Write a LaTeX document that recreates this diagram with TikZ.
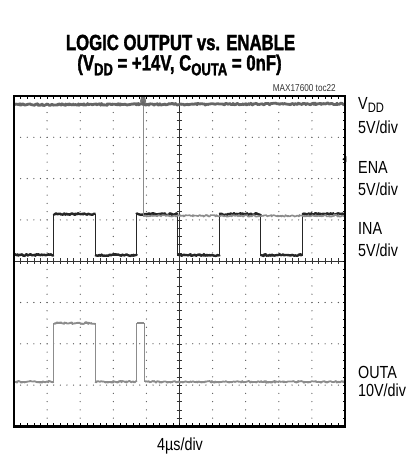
\documentclass[tikz,border=0pt]{standalone}
\usepackage{fontspec}
\setmainfont{Liberation Sans}[FakeStretch=0.82]
\newfontfamily\titlefont{Liberation Sans Bold}[FakeStretch=0.76, FakeBold=1.6]
\usetikzlibrary{positioning}
\usetikzlibrary{decorations.pathmorphing}

\newcommand{\lowsub}[1]{\raisebox{-0.22em}{\scalebox{0.78}{#1}}}

\tikzset{
  griddot/.style={fill=black!65},
  wire/.style={line width=0.9pt},
  noisy/.style={decorate, decoration={random steps, segment length=1.1pt, amplitude=0.9pt}, line join=round},
  lbl/.style={anchor=west, inner sep=0pt, font=\fontsize{17.5}{18}\selectfont},
  title/.style={inner sep=0pt, font=\fontsize{22}{22}\titlefont},
}

\begin{document}
\begin{tikzpicture}[x=1pt, y=-1pt]
     \useasboundingbox (0,0) rectangle (414,459);
     % titles
     \node[title] (ttl) at (180.5,42.5) {LOGIC OUTPUT vs. ENABLE};
     \node[title] (sub) at (179.5,65) {(V\lowsub{DD} = +14V, C\lowsub{OUTA} = 0nF)};
     \node[inner sep=0pt, anchor=east, font=\fontsize{10}{10}\selectfont, text=black!80] (toc) at (336,88) {MAX17600 toc22};
     % channel labels
     \node[lbl] (vdd) at (358,105) {V\lowsub{DD}};
     \node[lbl] (vddsc) at (358,127) {5V/div};
     \node[lbl] (ena) at (358,167) {ENA};
     \node[lbl] (enasc) at (358,189) {5V/div};
     \node[lbl] (ina) at (358,228) {INA};
     \node[lbl] (inasc) at (358,250) {5V/div};
     \node[lbl] (outa) at (358,372.5) {OUTA};
     \node[lbl] (outasc) at (358,390) {10V/div};
     \node[lbl, anchor=center] (tdiv) at (180,446) {4µs/div};

     \begin{scope}[shift={(14pt,-96pt)}, x=33.1pt, y=-41.3pt]
     % dotted grid
     \foreach \i in {1,2,3,4,6,7,8,9}
        \foreach \k in {1,...,39}
           \fill[griddot] (\i,\k/5) circle (0.65pt);
     \foreach \j in {1,2,3,5,6,7}
        \foreach \k in {1,...,49}
           \fill[griddot] (\k/5,\j) circle (0.65pt);
     % center axes
     \draw[line width=0.6pt, black!80] (0,4) -- (10,4);
     \draw[line width=0.6pt, black!80] (5,0) -- (5,8);
     \foreach \k in {1,...,49} {
        \draw[line width=0.6pt, black!80] (\k/5,3.93) -- (\k/5,4.07);
        \draw[line width=0.6pt] (\k/5,8) -- (\k/5,7.92);
        \draw[line width=0.6pt] (\k/5,0) -- (\k/5,0.08);
     }
     \foreach \k in {1,...,39} {
        \draw[line width=0.6pt, black!80] (4.91,\k/5) -- (5.09,\k/5);
        \draw[line width=0.6pt] (10,\k/5) -- (9.94,\k/5);
     }
     % INA
     \draw[wire, black!85] (0,3.85) -| (1.2,2.86) -| (2.45,3.85) -| (3.7,2.86) -| (4.95,3.85)
        -| (6.2,2.86) -| (7.45,3.85) -| (8.7,2.86) -- (10,2.86);
     \foreach \a/\b in {0/1.2, 2.45/3.7, 4.95/6.2, 7.45/8.7}
        \draw[noisy, line width=2.4pt, black!85] (\a,3.85) -- (\b,3.85);
     \foreach \a/\b in {1.2/2.45, 3.7/4.95, 6.2/7.45, 8.7/10}
        \draw[noisy, line width=2.4pt, black!85] (\a,2.86) -- (\b,2.86);
     % ENA
     \draw[wire, black!45] (3.9,0.19) -- (3.9,2.9);
     \draw[noisy, line width=1.6pt, black!45] (3.9,2.9) -- (10,2.9);
     % OUTA
     \draw[wire, black!45] (0,6.92) -| (1.2,5.5) -| (2.45,6.92) -| (3.7,5.5) -| (3.95,6.92) -- (10,6.92);
     \draw[noisy, line width=1.8pt, black!45] (0,6.92) -- (1.2,6.92);
     \draw[noisy, line width=1.8pt, black!45] (2.45,6.92) -- (3.7,6.92);
     \draw[noisy, line width=1.8pt, black!45] (3.95,6.92) -- (10,6.92);
     \draw[noisy, line width=1.8pt, black!45] (1.2,5.5) -- (2.45,5.5);
     \draw[line width=1.8pt, black!45] (3.72,5.5) -- (3.93,5.5);
     % VDD
     \draw[noisy, line width=2.8pt, black!60] (0,0.21) -- (10,0.19);
     \fill[black!55] (3.9,0.12) ellipse (3pt and 5pt);
     % markers
     \fill[black!60] (3.9,0.12) -- ++(-3pt,-4pt) -- ++(6pt,0) -- cycle;
     \fill[black] (9.92,1.53) -- ++(4pt,-3pt) -- ++(0,6pt) -- cycle;
     % frame
     \draw[line width=2.4pt] (0,0) rectangle (10,8);
     \end{scope}
\end{tikzpicture}
\end{document}
